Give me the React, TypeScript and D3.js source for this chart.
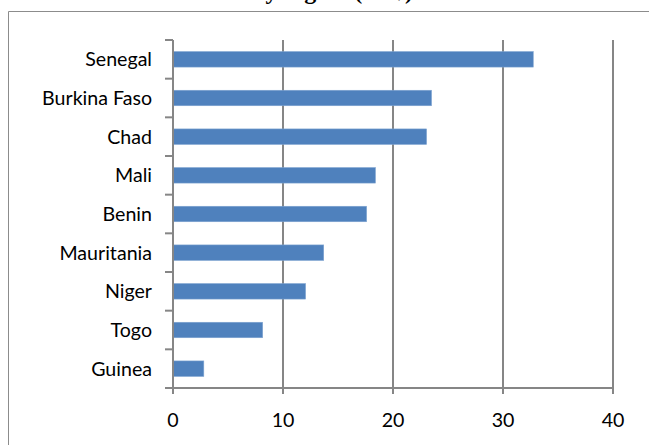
import React from "react";
import * as d3 from "d3";

const countries = ["Senegal", "Burkina Faso", "Chad", "Mali", "Benin", "Mauritania", "Niger", "Togo", "Guinea"];
const values = [32.75, 23.5, 23.05, 18.4, 17.6, 13.7, 12.05, 8.15, 2.8];
const xTicks = [0, 10, 20, 30, 40];
const titleText = "Total remittances by region (US$)";

const W = 649;
const H = 445;
const plot = { left: 173, right: 613, top: 40, bottom: 388 };
const labelFont = "Lato, 'Open Sans', sans-serif";
const gridColor = "#868686";

export default function App() {
  const x = d3.scaleLinear().domain([0, 40]).range([plot.left, plot.right]);
  const y = d3
    .scaleBand<string>()
    .domain(countries)
    .range([plot.top, plot.bottom])
    .paddingInner(0.6)
    .paddingOuter(0.3);
  const boundaries = d3.range(countries.length + 1).map((i) => plot.top + i * ((plot.bottom - plot.top) / countries.length));

  return (
    <svg
      width={W}
      height={H}
      style={{ position: "fixed", left: 0, top: 0, display: "block", background: "#fff" }}
    >
      <rect x={0} y={0} width={W} height={H} fill="#fff" />
      {/* chart frame */}
      <line x1={8.5} y1={11.5} x2={W} y2={11.5} stroke="#8c8c8c" strokeWidth={1} />
      <line x1={8.5} y1={11.5} x2={8.5} y2={H} stroke="#8c8c8c" strokeWidth={1} />
      <text
        x={413}
        y={-1}
        textAnchor="end"
        fontFamily="'Liberation Serif', 'Times New Roman', serif"
        fontWeight="bold"
        fontSize={24}
        fill="#000"
      >
        {titleText}
      </text>

      {/* vertical gridlines */}
      {xTicks.slice(1).map((t) => (
        <line key={`g${t}`} x1={x(t)} x2={x(t)} y1={plot.top} y2={plot.bottom} stroke={gridColor} strokeWidth={2} />
      ))}

      {/* bars */}
      {countries.map((c, i) => (
        <rect
          key={c}
          x={x(0)}
          y={y(c)}
          width={x(values[i]) - x(0)}
          height={y.bandwidth()}
          fill="#4F81BD"
          stroke="#7da2d0"
          strokeWidth={0.6}
        />
      ))}

      {/* category axis */}
      <line x1={plot.left} x2={plot.left} y1={plot.top} y2={plot.bottom} stroke={gridColor} strokeWidth={2} />
      {boundaries.map((b, i) => (
        <line key={`t${i}`} x1={plot.left - 8} x2={plot.left} y1={b} y2={b} stroke={gridColor} strokeWidth={2} />
      ))}
      {countries.map((c) => (
        <text
          key={`l${c}`}
          x={152}
          y={(y(c) ?? 0) + y.bandwidth() / 2}
          dy="0.35em"
          textAnchor="end"
          fontFamily={labelFont}
          fontSize={19.6}
          fill="#000"
        >
          {c}
        </text>
      ))}

      {/* value axis */}
      <line x1={plot.left - 1} x2={plot.right + 1} y1={plot.bottom} y2={plot.bottom} stroke={gridColor} strokeWidth={2} />
      {xTicks.map((t) => (
        <g key={`x${t}`}>
          <line x1={x(t)} x2={x(t)} y1={plot.bottom} y2={plot.bottom + 6} stroke={gridColor} strokeWidth={2} />
          <text
            x={x(t)}
            y={420}
            dy="0.35em"
            textAnchor="middle"
            fontFamily={labelFont}
            fontSize={19.6}
            fill="#000"
          >
            {t}
          </text>
        </g>
      ))}
    </svg>
  );
}
